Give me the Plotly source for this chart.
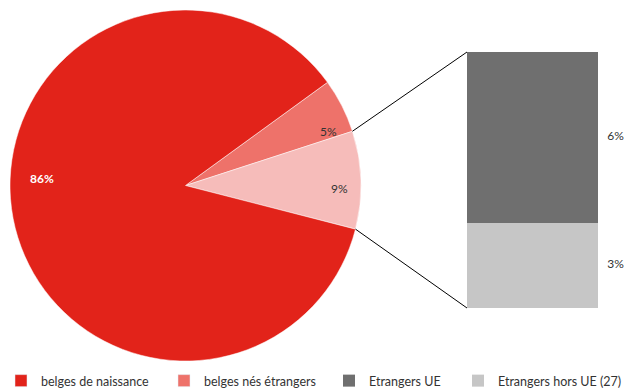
import math
import plotly.graph_objects as go

W, H = 627, 392

# ---- data ----
pie_labels = ["belges nés étrangers", "étrangers", "belges de naissance"]
pie_values = [5, 9, 86]
pie_colors = ["#EE726A", "#F6BCBA", "#E2231A"]

bar_labels = ["Etrangers hors UE (27)", "Etrangers UE"]
bar_values = [3, 6]
bar_colors = ["#C6C6C6", "#6F6F6F"]

legend_labels = ["belges de naissance", "belges nés étrangers", "Etrangers UE", "Etrangers hors UE (27)"]
legend_colors = ["#E2231A", "#EE726A", "#6F6F6F", "#C6C6C6"]

# ---- layout geometry (pixels) ----
pie_left, pie_right, pie_top, pie_bottom = 10, 361, 9, 362
bar_left, bar_right, bar_top, bar_bottom = 467, 598, 52, 308
rotation = 54  # degrees clockwise from 12 o'clock
label_angles = [24, -1, 177.3]       # where the slice labels sit (deg, ccw from 3 o'clock)
label_radius = [0.89, 0.88, 0.896]   # fraction of the pie radius
FONT = "Lato, 'Open Sans', sans-serif"
TXT = "#333333"

fig = go.Figure()

fig.add_trace(go.Pie(
    labels=pie_labels, values=pie_values, sort=False, direction="clockwise",
    rotation=rotation,
    marker=dict(colors=pie_colors, line=dict(color="white", width=0.5)),
    textinfo="none",
    domain=dict(x=[pie_left / W, pie_right / W], y=[1 - pie_bottom / H, 1 - pie_top / H]),
    showlegend=False, hoverinfo="label+percent",
))

# stacked bar
bar_w = bar_right - bar_left
x_hi = 0.5 + (W - bar_right) / bar_w
for lab, v, c, lg in zip(bar_labels, bar_values, bar_colors, ["legend4", "legend3"]):
    fig.add_trace(go.Bar(x=[0], y=[v], name=lab, width=1, marker=dict(color=c, line=dict(width=0)),
                         legend=lg, showlegend=True, xaxis="x", yaxis="y"))

# bar value labels
cum = 0
mids = []
for v in bar_values:
    mids.append(cum + v / 2)
    cum += v
label_x = 0.5 + (615.5 - bar_right) / bar_w
fig.add_trace(go.Scatter(x=[label_x] * len(bar_values), y=mids, mode="text",
                         text=[f"{v}%" for v in bar_values], cliponaxis=False,
                         textfont=dict(family=FONT, size=12, color=TXT),
                         showlegend=False, hoverinfo="skip"))

# legend-only entries for pie categories
for lab, c, lg in zip(legend_labels[:2], legend_colors[:2], ["legend", "legend2"]):
    fig.add_trace(go.Bar(x=[None], y=[None], name=lab, marker=dict(color=c),
                         legend=lg, showlegend=True))

# pie geometry
cx = (pie_left + pie_right) / 2
cy = (pie_top + pie_bottom) / 2
r = min(pie_right - pie_left, pie_bottom - pie_top) / 2

# pie slice labels
for v, ang, rf in zip(pie_values, label_angles, label_radius):
    big = v == max(pie_values)
    px = cx + rf * r * math.cos(math.radians(ang))
    py = cy - rf * r * math.sin(math.radians(ang))
    fig.add_annotation(x=px / W, y=1 - py / H, xref="paper", yref="paper",
                       text=f"<b>{v}%</b>" if big else f"{v}%", showarrow=False,
                       font=dict(family=FONT, size=12, color="white" if big else TXT))

# connector lines from pie slice edges to bar corners
start = 90 - rotation
a1 = start - pie_values[0] / sum(pie_values) * 360
a2 = a1 - pie_values[1] / sum(pie_values) * 360
xd = [bar_left / W, 1.0]
yd = [1 - bar_bottom / H, 1 - bar_top / H]
for ang, by in [(a1, yd[1]), (a2, yd[0])]:
    px = cx + r * math.cos(math.radians(ang))
    py = cy - r * math.sin(math.radians(ang))
    fig.add_shape(type="line", xref="paper", yref="paper",
                  x0=px / W, y0=1 - py / H, x1=xd[0], y1=by,
                  line=dict(color="black", width=1))

leg_common = dict(orientation="h", yanchor="middle", y=1 - 381 / H, xanchor="left",
                  font=dict(family=FONT, size=12.5, color=TXT), bgcolor="rgba(0,0,0,0)")
legend_x_px = [1, 164, 329, 458]
layout_legends = {}
for i, lx in enumerate(legend_x_px):
    key = "legend" if i == 0 else f"legend{i + 1}"
    layout_legends[key] = dict(x=lx / W, **leg_common)

fig.update_layout(
    width=W, height=H, margin=dict(l=0, r=0, t=0, b=0, autoexpand=False),
    paper_bgcolor="white", plot_bgcolor="white",
    barmode="stack", bargap=0,
    xaxis=dict(domain=xd, range=[-0.5, x_hi], visible=False, fixedrange=True),
    yaxis=dict(domain=yd, range=[0, sum(bar_values)], visible=False, fixedrange=True),
    **layout_legends,
)

fig.write_html("out.html")
